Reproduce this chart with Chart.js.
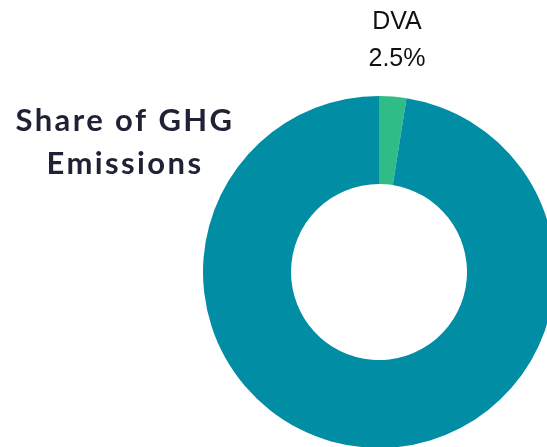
<!DOCTYPE html>
<html>
<head>
<meta charset="utf-8">
<script src="https://cdn.jsdelivr.net/npm/chart.js@4/dist/chart.umd.min.js"></script>
<style>
  html, body { margin: 0; padding: 0; background: #fff; overflow: hidden; }
  #wrap { position: relative; width: 547px; height: 447px; overflow: hidden; }
  #wrap canvas { position: absolute; left: 0; top: 0; }
</style>
</head>
<body>
<div id="wrap"><canvas id="ghg"></canvas></div>
<script>
// data
const labels = ["DVA", "Other"];
const shares = [2.5, 97.5];
const colors = ["#2fbc86", "#018da4"];
const titleLines = ["Share of GHG", "Emissions"];

// draws the title and the DVA callout on the canvas
const textPlugin = {
    id: "ghgText",
    afterDraw(chart) {
        const ctx = chart.ctx;
        ctx.save();
        ctx.textAlign = "center";
        ctx.textBaseline = "middle";

        ctx.fillStyle = "#1f2235";
        ctx.font = "bold 31px Lato";
        ctx.letterSpacing = "2.4px";
        ctx.fillText(titleLines[0], 125, 121);
        ctx.fillText(titleLines[1], 125, 164);

        ctx.letterSpacing = "0px";
        ctx.fillStyle = "#111";
        ctx.font = "25px 'Liberation Sans'";
        ctx.fillText(labels[0], 397, 22);
        ctx.fillText(shares[0].toFixed(1) + "%", 397, 59);
        ctx.restore();
    }
};

const el = document.getElementById("ghg");
el.width = 560;
el.height = 460;
el.style.width = "560px";
el.style.height = "460px";

new Chart(el, {
    type: "doughnut",
    data: {
        labels: labels,
        datasets: [{
            data: shares,
            backgroundColor: colors,
            borderWidth: 0
        }]
    },
    options: {
        responsive: false,
        animation: false,
        cutout: "50%",
        layout: { padding: { left: 203, top: 96, right: 5, bottom: 12 } },
        plugins: {
            legend: { display: false },
            tooltip: { enabled: false }
        }
    },
    plugins: [textPlugin]
});
</script>
</body>
</html>
